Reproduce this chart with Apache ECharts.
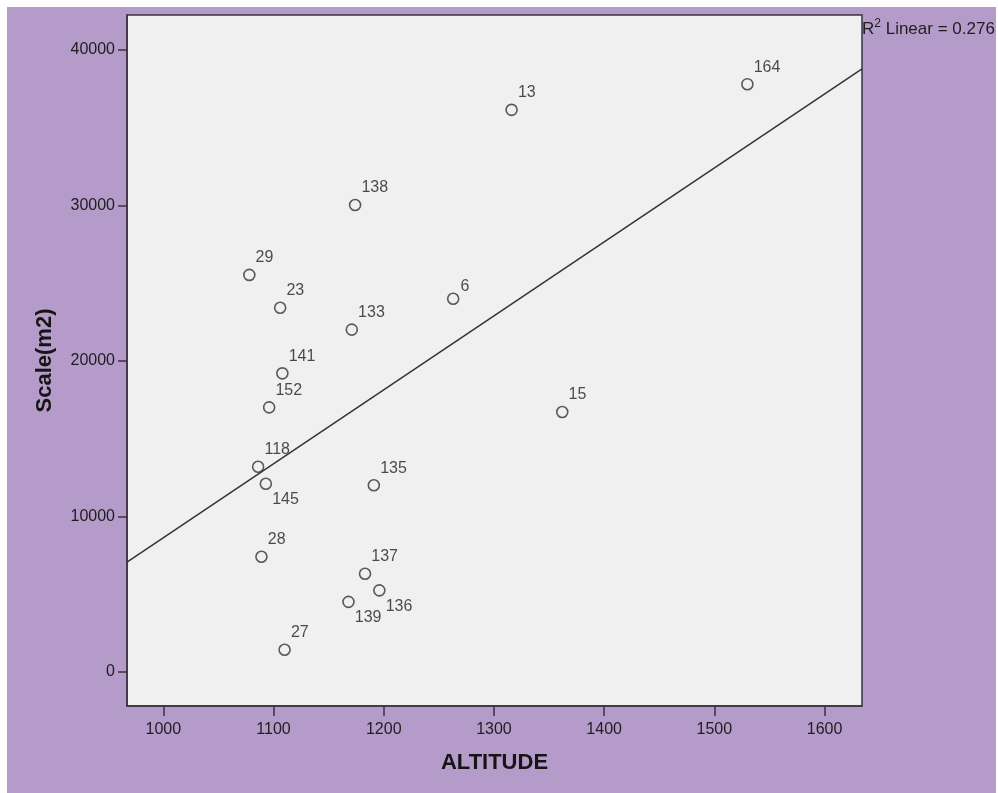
<!DOCTYPE html>
<html>
<head>
<meta charset="utf-8">
<script src="https://cdn.jsdelivr.net/npm/echarts@6/dist/echarts.min.js"></script>
<style>
html,body{margin:0;padding:0;background:#ffffff;width:998px;height:793px;overflow:hidden;}
#c{position:absolute;left:7px;top:7px;width:989px;height:786px;}
</style>
</head>
<body>
<div id="c"></div>
<script>
// ---- data ----
const pointIds  = ['164','13','138','29','23','133','6','141','152','118','145','135','15','28','137','136','139','27'];
const altitude  = [1530, 1316, 1174, 1078, 1106, 1171, 1263, 1108, 1096, 1086, 1093, 1191, 1362, 1089, 1183, 1196, 1168, 1110];
const scaleM2   = [37800, 36150, 30030, 25530, 23420, 22010, 24000, 19200, 17010, 13190, 12100, 12000, 16710, 7400, 6310, 5240, 4500, 1420];
const fitX      = [967, 1634];
const fitY      = [7060, 38780];
const xTicks    = [1000, 1100, 1200, 1300, 1400, 1500, 1600];
const yTicks    = [0, 10000, 20000, 30000, 40000];
const r2Text    = '0.276';

// label placement (style, not data)
const belowLabels = new Set(['145','139','136']);

const points = pointIds.map((id, i) => {
  const below = belowLabels.has(id);
  return {
    value: [altitude[i], scaleM2[i]],
    name: id,
    label: { offset: below ? [0, 16] : (id === '6' ? [1, -12] : [0, -17]) }
  };
});

const chart = echarts.init(document.getElementById('c'), null, {renderer: 'canvas'});
const font = 'Liberation Sans, Arial, sans-serif';
chart.setOption({
  backgroundColor: '#b59bc9',
  animation: false,
  grid: {
    left: 120, top: 8, right: 134, bottom: 87,
    show: true, backgroundColor: '#f0f0f0', borderColor: '#3a3340', borderWidth: 1.5
  },
  xAxis: {
    type: 'value', min: 967, max: 1634,
    name: 'ALTITUDE', nameLocation: 'middle', nameGap: 46,
    nameTextStyle: {fontFamily: font, fontSize: 22, fontWeight: 'bold', color: '#151515'},
    axisLine: {show: true, onZero: false, lineStyle: {color: '#3a3340', width: 1.5}},
    axisTick: {show: true, length: 10, customValues: xTicks, lineStyle: {color: '#3a3340', width: 1.5}},
    axisLabel: {customValues: xTicks, margin: 16, fontFamily: font, fontSize: 16, color: '#1e1e1e', formatter: v => String(v)},
    splitLine: {show: false}
  },
  yAxis: {
    type: 'value', min: -2200, max: 42250,
    name: 'Scale(m2)', nameLocation: 'middle', nameGap: 71, nameRotate: 90,
    nameTextStyle: {fontFamily: font, fontSize: 22, fontWeight: 'bold', color: '#151515'},
    axisLine: {show: true, onZero: false, lineStyle: {color: '#3a3340', width: 1.5}},
    axisTick: {show: true, length: 9, customValues: yTicks, lineStyle: {color: '#3a3340', width: 1.5}},
    axisLabel: {customValues: yTicks, margin: 12, fontFamily: font, fontSize: 16, color: '#1e1e1e', formatter: v => String(v)},
    splitLine: {show: false}
  },
  graphic: [{
    type: 'text', left: 855, top: 11,
    style: {
      text: '{a|R}{s|2}{a| Linear = ' + r2Text + '}',
      rich: {
        a: {fontFamily: font, fontSize: 17, fill: '#1e1e1e', verticalAlign: 'bottom', lineHeight: 20},
        s: {fontFamily: font, fontSize: 12, fill: '#1e1e1e', verticalAlign: 'top', lineHeight: 20, padding: [0,0,7,0]}
      }
    }
  }],
  series: [
    {
      type: 'line', data: fitX.map((x, i) => [x, fitY[i]]),
      showSymbol: false, symbol: 'none', silent: true,
      lineStyle: {color: '#333333', width: 1.5}, z: 2
    },
    {
      type: 'scatter', data: points, symbol: 'circle', symbolSize: 11,
      itemStyle: {color: 'rgba(0,0,0,0)', borderColor: '#333333', borderWidth: 1.6},
      label: {
        show: true, position: 'right', distance: 0,
        formatter: p => p.name, fontFamily: font, fontSize: 16, color: '#1e1e1e'
      },
      z: 3
    }
  ]
});
</script>
</body>
</html>
